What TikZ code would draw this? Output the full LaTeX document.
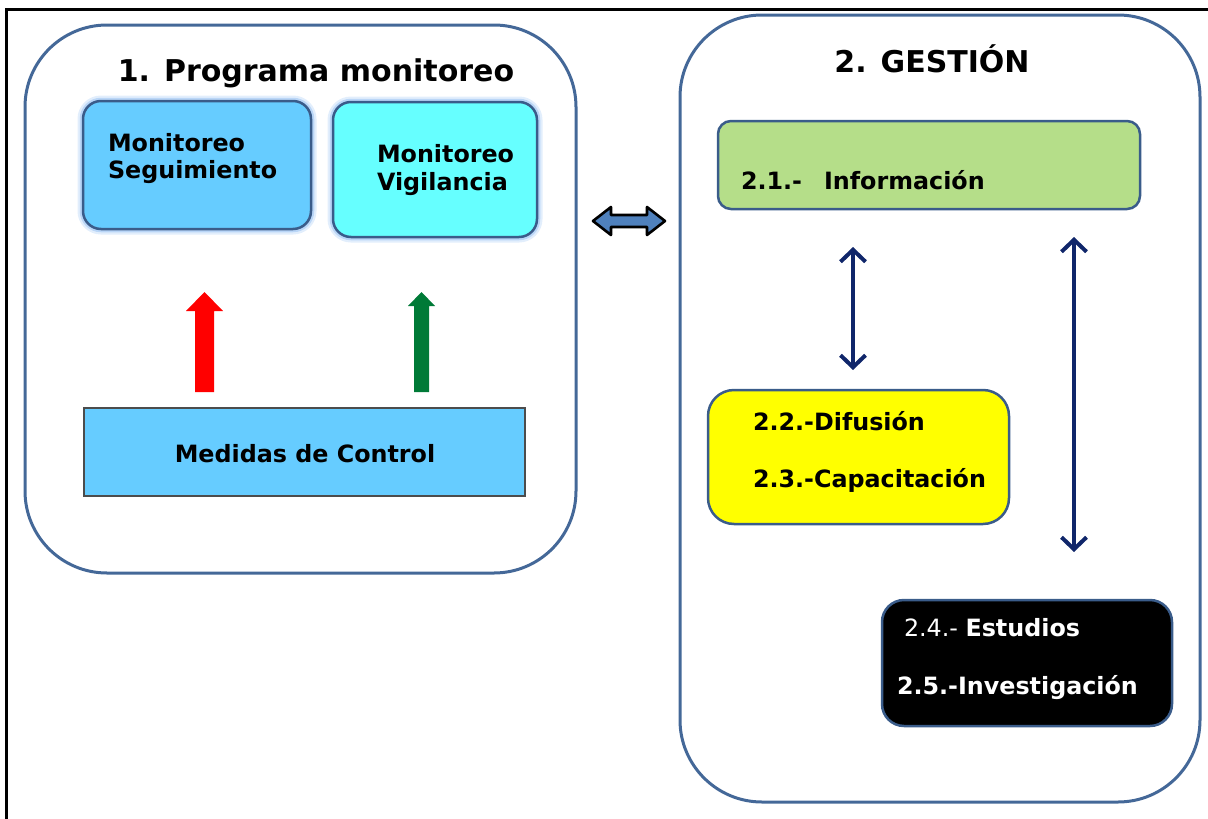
\documentclass[tikz,border=0pt]{standalone}
\usepackage{fontspec}
\setmainfont{DejaVu Sans}
\usetikzlibrary{arrows.meta}
\definecolor{frameblue}{RGB}{68,104,152}
\definecolor{boxborder}{RGB}{58,92,138}
\definecolor{skyfill}{RGB}{102,204,255}
\definecolor{cyanfill}{RGB}{102,255,255}
\definecolor{greenfill}{RGB}{181,222,137}
\definecolor{yellowfill}{RGB}{255,255,0}
\definecolor{navyline}{RGB}{16,38,106}
\definecolor{blockblue}{RGB}{79,129,189}
\definecolor{arrowgreen}{RGB}{0,122,55}
\definecolor{glowA}{RGB}{226,238,252}
\definecolor{glowB}{RGB}{186,214,247}
\newcommand{\dgTitle}{\fontsize{30}{36}\selectfont\bfseries}
\newcommand{\dgText}{\fontsize{23.8}{28}\selectfont\bfseries}
\newcommand{\dgPlain}{\fontsize{23.8}{28}\selectfont\mdseries}
\begin{document}
\begin{tikzpicture}[x=1pt,y=-1pt,
  panel/.style={draw=frameblue, line width=3pt, rounded corners=82pt, inner sep=0pt, outer sep=0pt},
  roundbox/.style={draw=boxborder, line width=2.5pt, inner sep=0pt, outer sep=0pt},
  glowbox/.style={roundbox, rounded corners=18pt,
     preaction={draw=glowA, line width=11pt},
     preaction={draw=glowB, line width=6.5pt}},
  label/.style={inner sep=0pt, outer sep=0pt, anchor=base west},
  twoway/.style={draw=navyline, line width=4pt,
     {Straight Barb[length=12pt,width=25pt]}-{Straight Barb[length=12pt,width=25pt]}}
]
\useasboundingbox (0,0) rectangle (1208,819);
% outer frame (top and left edges)
\draw[black, line width=2.5pt] (1208,9.5) -- (6.5,9.5) -- (6.5,819);

% panels
\node[panel, minimum width=551pt, minimum height=548pt] (left) at (300.5,299) {};
\node[panel, minimum width=520pt, minimum height=787pt] (right) at (940,408.5) {};

% left panel contents
\node[inner sep=0pt, anchor=base] (t1) at (316,81) {\dgTitle 1. Programa monitoreo};
\node[glowbox, fill=skyfill, minimum width=228pt, minimum height=128pt] (ms) at (197,165) {};
\node[glowbox, fill=cyanfill, minimum width=204pt, minimum height=135pt] (mv) at (435,169.5) {};
\node[label] (ms1) at (108,151) {\dgText Monitoreo};
\node[label] (ms2) at (108,178) {\dgText Seguimiento};
\node[label] (mv1) at (377,162) {\dgText Monitoreo};
\node[label] (mv2) at (377,190) {\dgText Vigilancia};
\node[draw=black!70, line width=1.2pt, fill=skyfill, minimum width=441pt, minimum height=88pt, inner sep=0pt] (mc) at (304.5,452) {};
\node[inner sep=0pt, anchor=base] (mct) at (305,462) {\dgText Medidas de Control};

% block arrows up
\fill[red] (195,392) -- (195,311) -- (186,311) -- (204.5,292) -- (223,311) -- (214,311) -- (214,392) -- cycle;
\fill[arrowgreen] (414,392) -- (414,306) -- (408,306) -- (421.5,292) -- (435,306) -- (429,306) -- (429,392) -- cycle;

% double block arrow between panels
\draw[black, line width=2.6pt, line join=round, fill=blockblue]
  (593,221) -- (611,207) -- (611,215) -- (647,215) -- (647,207) -- (665,221)
  -- (647,235) -- (647,227) -- (611,227) -- (611,235) -- cycle;

% right panel contents
\node[inner sep=0pt, anchor=base] (t2) at (932,72) {\dgTitle 2. GESTIÓN};
\node[roundbox, rounded corners=13pt, fill=greenfill, minimum width=422pt, minimum height=88pt] (info) at (929,165) {};
\node[label] (infot) at (741,189) {\dgText 2.1.-\hspace{22pt}Información};
\node[roundbox, rounded corners=26pt, fill=yellowfill, minimum width=301pt, minimum height=134pt] (dif) at (858.5,457) {};
\node[label] (dif1) at (753,430) {\dgText 2.2.-Difusión};
\node[label] (dif2) at (753,487) {\dgText 2.3.-Capacitación};
\node[roundbox, rounded corners=22pt, fill=black, minimum width=290pt, minimum height=126pt] (est) at (1027,663) {};
\node[label, text=white] (est1) at (904,636) {\dgPlain 2.4.- \dgText Estudios};
\node[label, text=white] (est2) at (897,694) {\dgText 2.5.-Investigación};

% two-way connectors
\coordinate (a1) at (853,247);
\coordinate (a2) at (853,370);
\coordinate (b1) at (1074,237);
\coordinate (b2) at (1074,552);
\draw[twoway] (a1) -- (a2);
\draw[twoway] (b1) -- (b2);
\end{tikzpicture}
\end{document}
